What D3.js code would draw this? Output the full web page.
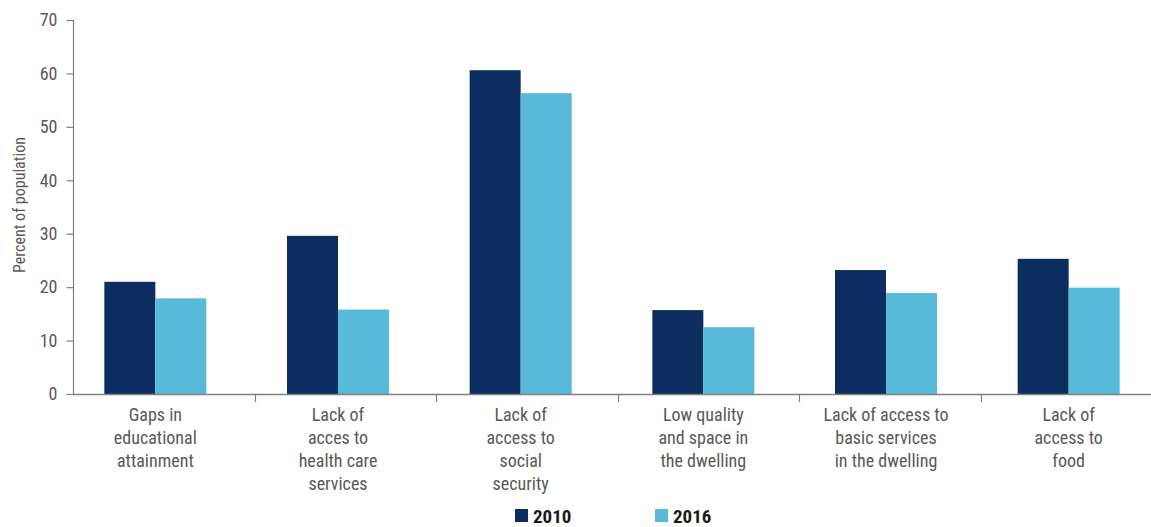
<!DOCTYPE html>
<html>
<head>
<meta charset="utf-8">
<script src="https://cdn.jsdelivr.net/npm/d3@7"></script>
<style>
  html, body { margin: 0; padding: 0; background: #fff; }
  svg { display: block; }
  .txt { font-family: "Liberation Sans Narrow", "Roboto Condensed", Roboto, sans-serif; }
</style>
</head>
<body>
<svg id="chart" width="1151" height="527"></svg>
<script>
// Category labels (line breaks marked with \n)
const categories = [
  "Gaps in\neducational\nattainment",
  "Lack of\nacces to\nhealth care\nservices",
  "Lack of\naccess to\nsocial\nsecurity",
  "Low quality\nand space in\nthe dwelling",
  "Lack of access to\nbasic services\nin the dwelling",
  "Lack of\naccess to\nfood"
];
const seriesNames = ["2010", "2016"];
const values2010 = [21.0, 29.6, 60.6, 15.7, 23.2, 25.3];
const values2016 = [17.9, 15.8, 56.3, 12.5, 18.9, 19.9];
const yTicks = [0, 10, 20, 30, 40, 50, 60, 70];
const colors = ["#0b2d5f", "#56bad8"];

const svg = d3.select("#chart");
const axisColor = "#808080";
const textColor = "#595959";

const plotTop = 20, plotBottom = 394;
const y = d3.scaleLinear().domain([0, 70]).range([plotBottom, plotTop]);

// bar groups and category labels
const x = d3.scaleBand().domain(categories).range([64, 1160]).paddingInner(0).paddingOuter(0);
// frame used for the category separator marks
const xFrame = d3.scaleBand().domain(categories).range([73, 1162]);
const xSub = d3.scaleBand().domain(seriesNames).range([0, 102]);

const rows = categories.map((c, i) => ({ cat: c, vals: [values2010[i], values2016[i]] }));

// bars
const g = svg.append("g");
g.selectAll("g.grp").data(rows).join("g")
  .attr("class", "grp")
  .attr("transform", d => `translate(${x(d.cat) + x.bandwidth() / 2 - 51},0)`)
  .selectAll("rect").data(d => d.vals.map((v, j) => ({ v, s: seriesNames[j], j })))
  .join("rect")
  .attr("x", d => xSub(d.s))
  .attr("width", xSub.bandwidth())
  .attr("y", d => y(d.v))
  .attr("height", d => y(0) - y(d.v))
  .attr("fill", d => colors[d.j]);

// y axis
const yAxis = d3.axisLeft(y).tickValues(yTicks).tickSize(7).tickPadding(9);
const ya = svg.append("g").attr("transform", "translate(73.5,0)").call(yAxis);
ya.select(".domain").attr("stroke", axisColor).attr("stroke-width", 1.2).attr("d", `M0,${plotTop}V${plotBottom}`);
ya.selectAll(".tick line").attr("stroke", axisColor).attr("stroke-width", 1.2);
ya.selectAll(".tick text")
  .attr("class", "txt")
  .attr("fill", textColor)
  .style("font-size", "18px");

// x axis baseline
svg.append("line")
  .attr("x1", 73).attr("x2", 1151)
  .attr("y1", y(0) + 0.5).attr("y2", y(0) + 0.5)
  .attr("stroke", axisColor).attr("stroke-width", 1.4);

// category separator marks
svg.selectAll("line.sep").data(categories.slice(1)).join("line")
  .attr("class", "sep")
  .attr("x1", d => Math.round(xFrame(d)) + 0.5).attr("x2", d => Math.round(xFrame(d)) + 0.5)
  .attr("y1", y(0)).attr("y2", y(0) + 8)
  .attr("stroke", axisColor).attr("stroke-width", 1.2);

// category labels
const lab = svg.selectAll("text.cat").data(categories).join("text")
  .attr("class", "cat txt")
  .attr("text-anchor", "middle")
  .attr("fill", textColor)
  .style("font-size", "18px")
  .attr("transform", d => `translate(${x(d) + x.bandwidth() / 2},421)`);
lab.selectAll("tspan").data(d => d.split("\n")).join("tspan")
  .attr("x", 0)
  .attr("y", (d, i) => i * 23)
  .text(d => d);

// y axis title
svg.append("text")
  .attr("class", "txt")
  .attr("transform", "translate(25,205) rotate(-90)")
  .attr("text-anchor", "middle")
  .attr("fill", textColor)
  .style("font-size", "16px")
  .text("Percent of population");

// legend
const leg = svg.selectAll("g.leg").data(seriesNames).join("g")
  .attr("class", "leg")
  .attr("transform", (d, i) => `translate(${515 + i * 140},509)`);
leg.append("rect").attr("width", 13).attr("height", 13).attr("fill", (d, i) => colors[i]);
leg.append("text")
  .attr("class", "txt")
  .attr("x", 18).attr("y", 14)
  .attr("fill", "#1a1a1a")
  .style("font-size", "19px")
  .style("font-weight", "bold")
  .text(d => d);
</script>
</body>
</html>
